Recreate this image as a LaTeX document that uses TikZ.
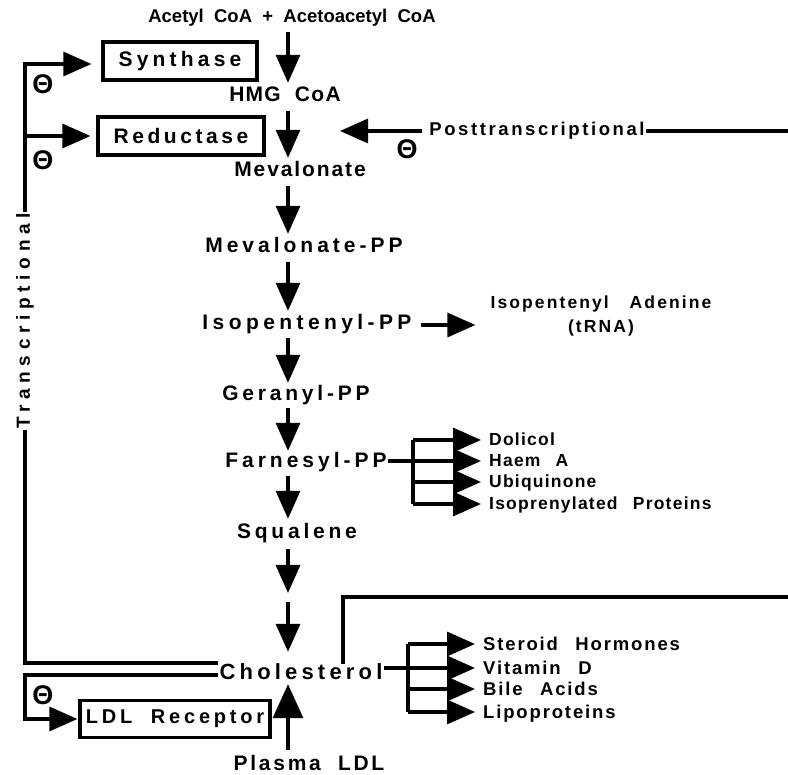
\documentclass[tikz,border=0pt]{standalone}
\usepackage{fontspec}
\setmainfont{Liberation Sans}
\usetikzlibrary{arrows.meta}
\usetikzlibrary{calc}
\usetikzlibrary{positioning}
\newcommand{\spaced}[3]{\fontsize{#1}{#1}\selectfont\bfseries\addfontfeatures{LetterSpace=#2}\spaceskip=#3\fontdimen2\font\relax}
\tikzset{pline/.style = {line width = 3.2pt}}
\tikzset{fat/.style = {pline, -{Triangle[length = 28pt, width = 24pt]}}}
\tikzset{pathway/.style = {inner sep = 1pt, text height = 14pt, text depth = 4pt,
                           font = \spaced{21}{18}{2}}}
\tikzset{enzyme/.style = {draw, pline, inner sep = 0pt, minimum height = 38pt,
                          font = \spaced{21}{18}{2}}}
\tikzset{product/.style = {anchor = west, inner sep = 0pt, text height = 12pt, text depth = 0pt,
                           font = \spaced{17.5}{7}{2.5}}}
\tikzset{minus/.style = {inner sep = 0pt, font = \fontsize{27}{27}\selectfont\bfseries}}

\begin{document}
\begin{tikzpicture}[x = 1pt, y = -1pt]
      \useasboundingbox (0, 0) rectangle (788, 775);
      \coordinate (axis) at (288, 0);

      % main pathway
      \node [pathway, font = \spaced{18.5}{0}{2}] (acetyl) at (292, 18) {Acetyl CoA + Acetoacetyl CoA};
      \node [pathway, font = \spaced{21}{6}{2}] (hmg) at (285, 97) {HMG CoA};
      \node [pathway, font = \spaced{21}{9}{2}] (mev) at (300, 172) {Mevalonate};
      \node [pathway, font = \spaced{21}{19}{2}] (mevpp) at (304, 248) {Mevalonate-PP};
      \node [pathway, font = \spaced{21}{21}{2}] (ipp) at (307, 325) {Isopentenyl-PP};
      \node [pathway] (gpp) at (296, 396) {Geranyl-PP};
      \node [pathway, font = \spaced{21}{19}{2}] (fpp) at (306, 463) {Farnesyl-PP};
      \node [pathway] (squal) at (297, 534) {Squalene};
      \node [pathway, font = \spaced{22}{19}{2}] (chol) at (301, 674) {Cholesterol};
      \node [pathway, font = \spaced{21}{13}{2}] (plasma) at (309, 765) {Plasma LDL};
      \coordinate (mid) at (288, 597);

      \draw [fat, shorten <= 4pt, shorten >= 4pt] (acetyl.south -| axis) -- (hmg.north -| axis);
      \draw [fat, shorten <= 4pt, shorten >= 4pt] (hmg.south -| axis) -- (mev.north -| axis);
      \draw [fat, shorten <= 4pt, shorten >= 4pt] (mev.south -| axis) -- (mevpp.north -| axis);
      \draw [fat, shorten <= 4pt, shorten >= 4pt] (mevpp.south -| axis) -- (ipp.north -| axis);
      \draw [fat, shorten <= 3pt, shorten >= 3pt] (ipp.south -| axis) -- (gpp.north -| axis);
      \draw [fat, shorten <= 2pt, shorten >= 2pt] (gpp.south -| axis) -- (fpp.north -| axis);
      \draw [fat, shorten <= 3pt, shorten >= 5pt] (fpp.south -| axis) -- (squal.north -| axis);
      \draw [fat, shorten <= 5pt, shorten >= 4pt] (squal.south -| axis) -- (mid);
      \draw [fat, shorten <= 5pt, shorten >= 12pt] (mid) -- (chol.north -| axis);
      \draw [pline, -{Triangle[length = 34pt, width = 30pt]}, shorten <= 5pt]
            (plasma.north -| axis) -- (chol.south -| axis);

      % enzymes
      \node [enzyme, minimum width = 154pt, font = \spaced{21}{20}{2}] (synth) at (180, 61) {Synthase};
      \node [enzyme, minimum width = 166pt, font = \spaced{21}{17}{2}] (reduct) at (181, 136) {Reductase};
      \node [enzyme, minimum width = 190pt, minimum height = 37pt, font = \spaced{20}{19}{2}] (ldl) at (175, 719) {LDL Receptor};

      % transcriptional feedback
      \node [pathway, rotate = 90, font = \spaced{19}{30}{2}] (trans) at (25, 321) {Transcriptional};
      \coordinate (rail) at (25, 700);
      \draw [fat, shorten >= 10pt] (trans.east) |- ([yshift = -3pt]synth.west);
      \draw [fat, shorten >= 6pt] (trans.east |- reduct.west) -- (reduct.west);
      \draw [pline] (trans.west) |- ($(chol.west) + (0, -11)$);
      \draw [fat, shorten >= 1pt] ($(chol.west) + (0, 1)$) -| (rail) |- (ldl.west);
      \node [minus] (inhA) at (43, 84) {Θ};
      \node [minus] (inhB) at (43, 160) {Θ};
      \node [minus] (inhC) at (43, 695) {Θ};

      % posttranscriptional feedback
      \node [pathway, font = \spaced{18.5}{14}{2}] (post) at (537, 131) {Posttranscriptional};
      \coordinate (hit) at (340, 131);
      \coordinate (edgeA) at (792, 131);
      \coordinate (edgeB) at (792, 597);
      \draw [fat, shorten <= 6pt] (post.west) -- (hit);
      \draw [pline] (post.east) -- (edgeA);
      \node [minus] (inhD) at (407, 149) {Θ};
      \draw [pline] ($(chol.north) + (42, 0)$) |- (edgeB);

      % isopentenyl adenine
      \node [product, anchor = center, align = center, text height = 13pt, text depth = 4pt,
             font = \spaced{17.5}{12}{3}] (ipa) at (601, 328) {Isopentenyl Adenine\\[6pt](tRNA)};
      \draw [fat, shorten <= 8pt, shorten >= 15pt] (ipp.east) -- (ipp.east -| ipa.west);

      % farnesyl branches
      \coordinate (barF) at (413, 0);
      \node [product] (dolicol) at (489, 440) {Dolicol};
      \node [product] (haem) at (489, 461) {Haem A};
      \node [product] (ubiq) at (489, 482) {Ubiquinone};
      \node [product] (isoprot) at (489, 504) {Isoprenylated Proteins};
      \draw [pline] (fpp.east |- haem.west) -- (barF |- haem.west);
      \draw [pline] (barF |- dolicol.west) -- (barF |- isoprot.west);
      \foreach \p in {dolicol, haem, ubiq, isoprot}
        \draw [fat, shorten >= 8pt] (barF |- \p.west) -- (\p.west);

      % cholesterol branches
      \coordinate (barC) at (408, 0);
      \node [product, font = \spaced{18.5}{10}{2.5}] (steroid) at (483, 644) {Steroid Hormones};
      \node [product, font = \spaced{18.5}{10}{2.5}] (vitd) at (483, 668) {Vitamin D};
      \node [product, font = \spaced{18.5}{10}{2.5}] (bile) at (483, 689) {Bile Acids};
      \node [product, font = \spaced{18.5}{10}{2.5}] (lipo) at (483, 712) {Lipoproteins};
      \draw [pline] (chol.east |- vitd.west) -- (barC |- vitd.west);
      \draw [pline] (barC |- steroid.west) -- (barC |- lipo.west);
      \foreach \p in {steroid, vitd, bile, lipo}
        \draw [fat, shorten >= 8pt] (barC |- \p.west) -- (\p.west);
    \end{tikzpicture}
\end{document}
